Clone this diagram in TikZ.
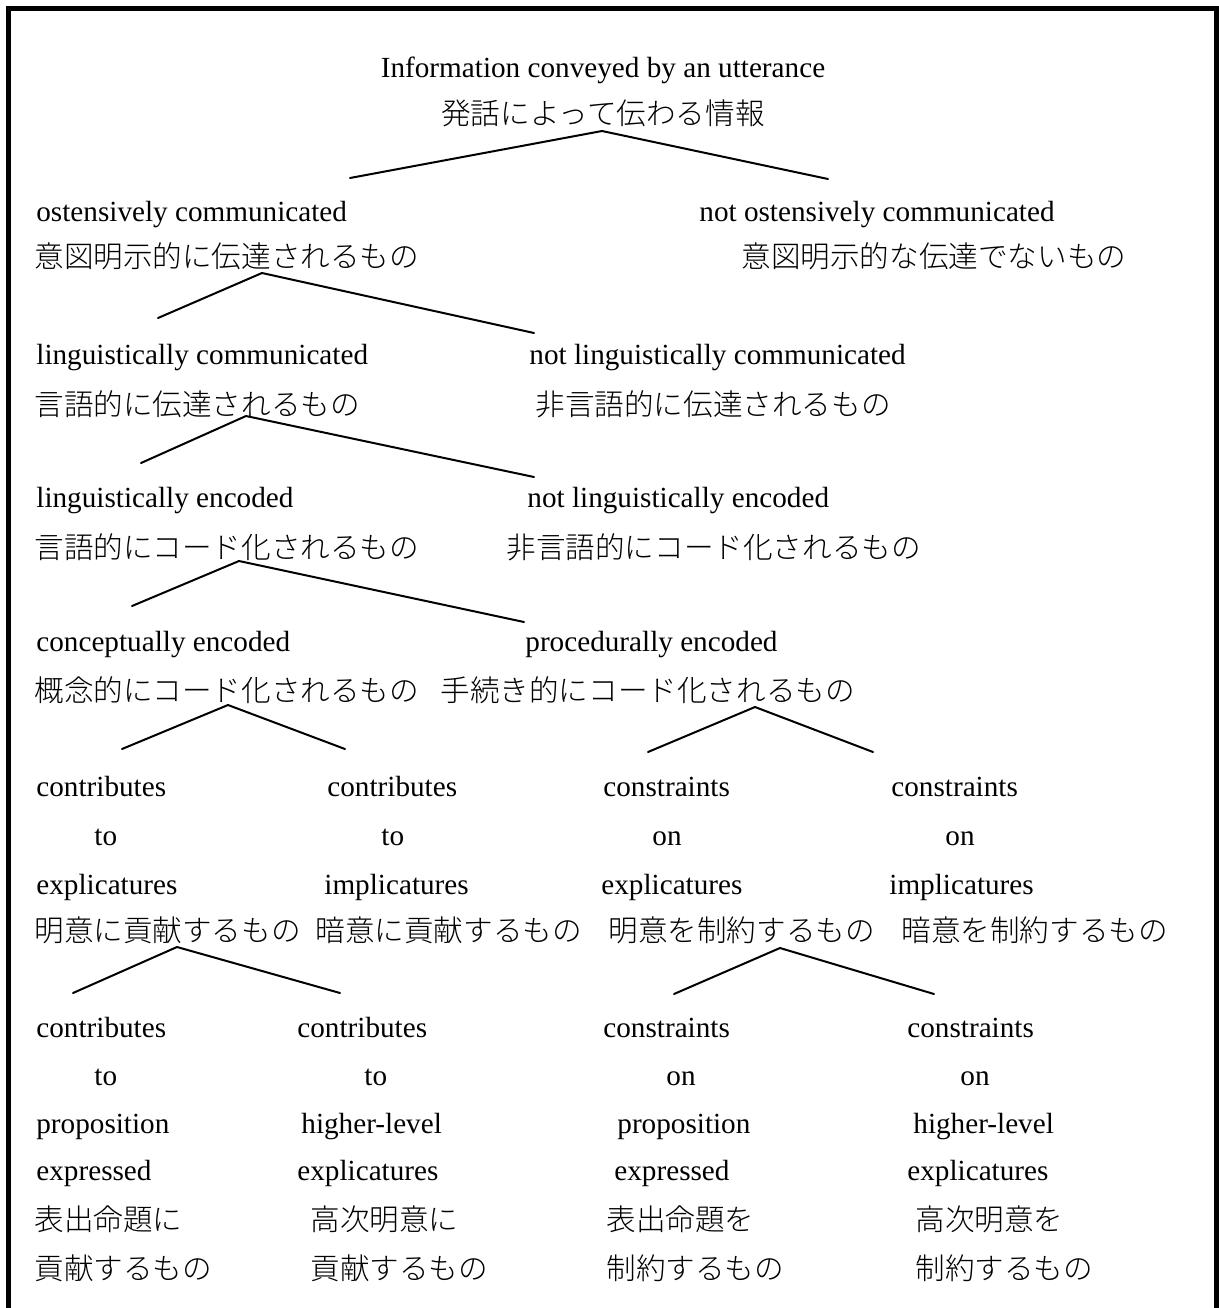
\documentclass[tikz,border=0pt]{standalone}
\usepackage{fontspec}
\setmainfont{Liberation Serif}
\IfFontExistsTF{Noto Sans CJK JP Light}
  {\newfontfamily\jpfont{Noto Sans CJK JP Light}}
  {\newfontfamily\jpfont{Noto Sans CJK JP}}
\begin{document}
\begin{tikzpicture}[x=0.5pt,y=-0.5pt,
  en/.style={anchor=base west,inner sep=0pt,font=\fontsize{14.6}{17}\selectfont},
  jp/.style={anchor=base west,inner sep=0pt,font=\jpfont\fontsize{14.8}{17}\selectfont},
  branch/.style={line width=1pt,line cap=round},
  frame/.style={line width=2.6pt}]
\useasboundingbox (0,0) rectangle (1219,1308);
\draw[frame] (8.5,1330) -- (8.5,8.5) -- (1216.5,8.5) -- (1216.5,1330);

% Row 1
\node[en,anchor=base] (t1) at (603,77) {Information conveyed by an utterance};
\node[jp,anchor=base] (t2) at (603,124) {発話によって伝わる情報};
% Row 2
\node[en] (os) at (36,221) {ostensively communicated};
\node[jp] (osj) at (34,267) {意図明示的に伝達されるもの};
\node[en] (nos) at (699,221) {not ostensively communicated};
\node[jp] (nosj) at (741,267) {意図明示的な伝達でないもの};
% Row 3
\node[en] (lc) at (36,364) {linguistically communicated};
\node[jp] (lcj) at (34,415) {言語的に伝達されるもの};
\node[en] (nlc) at (529,364) {not linguistically communicated};
\node[jp] (nlcj) at (535,415) {非言語的に伝達されるもの};
% Row 4
\node[en] (le) at (36,507) {linguistically encoded};
\node[jp] (lej) at (34,558) {言語的にコード化されるもの};
\node[en] (nle) at (527,507) {not linguistically encoded};
\node[jp] (nlej) at (506,558) {非言語的にコード化されるもの};
% Row 5
\node[en] (ce) at (36,651) {conceptually encoded};
\node[jp] (cej) at (34,701) {概念的にコード化されるもの};
\node[en] (pe) at (525,651) {procedurally encoded};
\node[jp] (pej) at (440,701) {手続き的にコード化されるもの};
% Row 6
\node[en] (a1) at (36,796) {contributes};
\node[en] (a2) at (94,845) {to};
\node[en] (a3) at (36,894) {explicatures};
\node[jp] (a4) at (34,941) {明意に貢献するもの};
\node[en] (b1) at (327,796) {contributes};
\node[en] (b2) at (381,845) {to};
\node[en] (b3) at (324,894) {implicatures};
\node[jp] (b4) at (315,941) {暗意に貢献するもの};
\node[en] (c1) at (603,796) {constraints};
\node[en] (c2) at (652,845) {on};
\node[en] (c3) at (601,894) {explicatures};
\node[jp] (c4) at (608,941) {明意を制約するもの};
\node[en] (d1) at (891,796) {constraints};
\node[en] (d2) at (945,845) {on};
\node[en] (d3) at (889,894) {implicatures};
\node[jp] (d4) at (901,941) {暗意を制約するもの};
% Row 7
\node[en] (e1) at (36,1037) {contributes};
\node[en] (e2) at (94,1085) {to};
\node[en] (e3) at (36,1133) {proposition};
\node[en] (e4) at (36,1180) {expressed};
\node[jp] (e5) at (34,1230) {表出命題に};
\node[jp] (e6) at (34,1279) {貢献するもの};
\node[en] (f1) at (297,1037) {contributes};
\node[en] (f2) at (364,1085) {to};
\node[en] (f3) at (301,1133) {higher-level};
\node[en] (f4) at (297,1180) {explicatures};
\node[jp] (f5) at (310,1230) {高次明意に};
\node[jp] (f6) at (310,1279) {貢献するもの};
\node[en] (g1) at (603,1037) {constraints};
\node[en] (g2) at (666,1085) {on};
\node[en] (g3) at (617,1133) {proposition};
\node[en] (g4) at (614,1180) {expressed};
\node[jp] (g5) at (606,1230) {表出命題を};
\node[jp] (g6) at (606,1279) {制約するもの};
\node[en] (h1) at (907,1037) {constraints};
\node[en] (h2) at (960,1085) {on};
\node[en] (h3) at (913,1133) {higher-level};
\node[en] (h4) at (907,1180) {explicatures};
\node[jp] (h5) at (915,1230) {高次明意を};
\node[jp] (h6) at (915,1279) {制約するもの};

% Branch points
\coordinate (p1) at (602,131); \coordinate (p1l) at (350,178); \coordinate (p1r) at (828,179);
\coordinate (p2) at (262,273); \coordinate (p2l) at (158,318); \coordinate (p2r) at (534,333);
\coordinate (p3) at (246,416); \coordinate (p3l) at (141,463); \coordinate (p3r) at (534,477);
\coordinate (p4) at (239,561); \coordinate (p4l) at (132,606); \coordinate (p4r) at (524,622);
\coordinate (p5) at (228,705); \coordinate (p5l) at (122,749); \coordinate (p5r) at (345,749);
\coordinate (p6) at (755,707); \coordinate (p6l) at (648,752); \coordinate (p6r) at (873,752);
\coordinate (p7) at (177,947); \coordinate (p7l) at (73,993); \coordinate (p7r) at (340,993);
\coordinate (p8) at (780,948); \coordinate (p8l) at (674,994); \coordinate (p8r) at (934,994);
\foreach \p in {p1,p2,p3,p4,p5,p6,p7,p8}
  \draw[branch] (\p l) -- (\p) -- (\p r);
\end{tikzpicture}
\end{document}
